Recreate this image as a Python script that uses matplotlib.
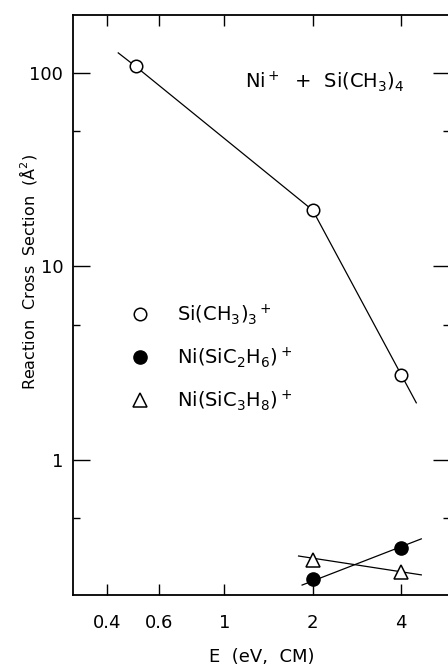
import matplotlib
matplotlib.use("Agg")
import matplotlib.pyplot as plt
from matplotlib.ticker import FixedLocator, FixedFormatter, NullFormatter

plt.rcParams['font.family'] = ['DejaVu Sans']
plt.rcParams['mathtext.default'] = 'regular'

# data
energia = [0.5, 2, 4]
si_ch3_3 = [108, 19.5, 2.75]
ni_sic2h6_x = [2, 4]
ni_sic2h6 = [0.242, 0.35]
ni_sic3h8_x = [2, 4]
ni_sic3h8 = [0.305, 0.263]

# linhas desenhadas a mao (extremos)
linha_si_x = [0.436, 0.5, 2, 4, 4.5]
linha_si_y = [127, 108, 19.5, 2.75, 1.97]
linha_c2_x = [1.84, 4.68]
linha_c2_y = [0.225, 0.39]
linha_c3_x = [1.79, 4.68]
linha_c3_y = [0.318, 0.254]

xticks = [0.4, 0.6, 1, 2, 4]
xticklabels = ['0.4', '0.6', '1', '2', '4']
yticks = [1, 10, 100]
yticklabels = ['1', '10', '100']
yminor = [0.5, 5, 50]

fig = plt.figure(figsize=(4.48, 6.70), dpi=100)
ax = fig.add_axes([0.163, 0.112, 0.841, 0.866])
ax.set_xscale('log')
ax.set_yscale('log')

ax.plot(linha_si_x, linha_si_y, color='black', lw=0.9)
ax.plot(linha_c2_x, linha_c2_y, color='black', lw=0.9)
ax.plot(linha_c3_x, linha_c3_y, color='black', lw=0.9)

ax.plot(energia, si_ch3_3, 'o', ms=9, mfc='white', mec='black', mew=1.1,
        label=r'Si(CH$_3$)$_3$$^+$')
ax.plot(ni_sic2h6_x, ni_sic2h6, 'o', ms=9.5, mfc='black', mec='black',
        label=r'Ni(SiC$_2$H$_6$)$^+$')
ax.plot(ni_sic3h8_x, ni_sic3h8, '^', ms=10, mfc='white', mec='black', mew=1.1,
        label=r'Ni(SiC$_3$H$_8$)$^+$')

ax.set_xlim(0.306, 5.85)
ax.set_ylim(0.2, 200)

ax.xaxis.set_major_locator(FixedLocator(xticks))
ax.xaxis.set_major_formatter(FixedFormatter(xticklabels))
ax.xaxis.set_minor_locator(FixedLocator([]))
ax.yaxis.set_major_locator(FixedLocator(yticks))
ax.yaxis.set_major_formatter(FixedFormatter(yticklabels))
ax.yaxis.set_minor_locator(FixedLocator(yminor))
ax.yaxis.set_minor_formatter(NullFormatter())

ax.tick_params(axis='both', which='both', direction='in', top=True, right=True,
               labelsize=13, width=1.0)
ax.tick_params(axis='x', which='major', length=8, pad=14)
ax.tick_params(axis='y', which='major', length=12, pad=7)
ax.tick_params(axis='y', which='minor', length=5)
for s in ax.spines.values():
    s.set_linewidth(1.3)

ax.text(0.457, 0.885, r'Ni$^+$  +  Si(CH$_3$)$_4$', transform=ax.transAxes,
        fontsize=14, va='center', ha='left')

ax.legend(loc='upper left', bbox_to_anchor=(0.105, 0.535), frameon=False,
          numpoints=1, handlelength=1.0, handletextpad=1.4, labelspacing=0.95,
          fontsize=14)

fig.text(0.063, 0.594, r'Reaction  Cross  Section  (Å$^2$)', rotation=90,
         fontsize=11.5, ha='center', va='center')
ax.set_xlabel('E  (eV,  CM)', fontsize=13, labelpad=11)

fig.savefig('out.png', dpi=100)
